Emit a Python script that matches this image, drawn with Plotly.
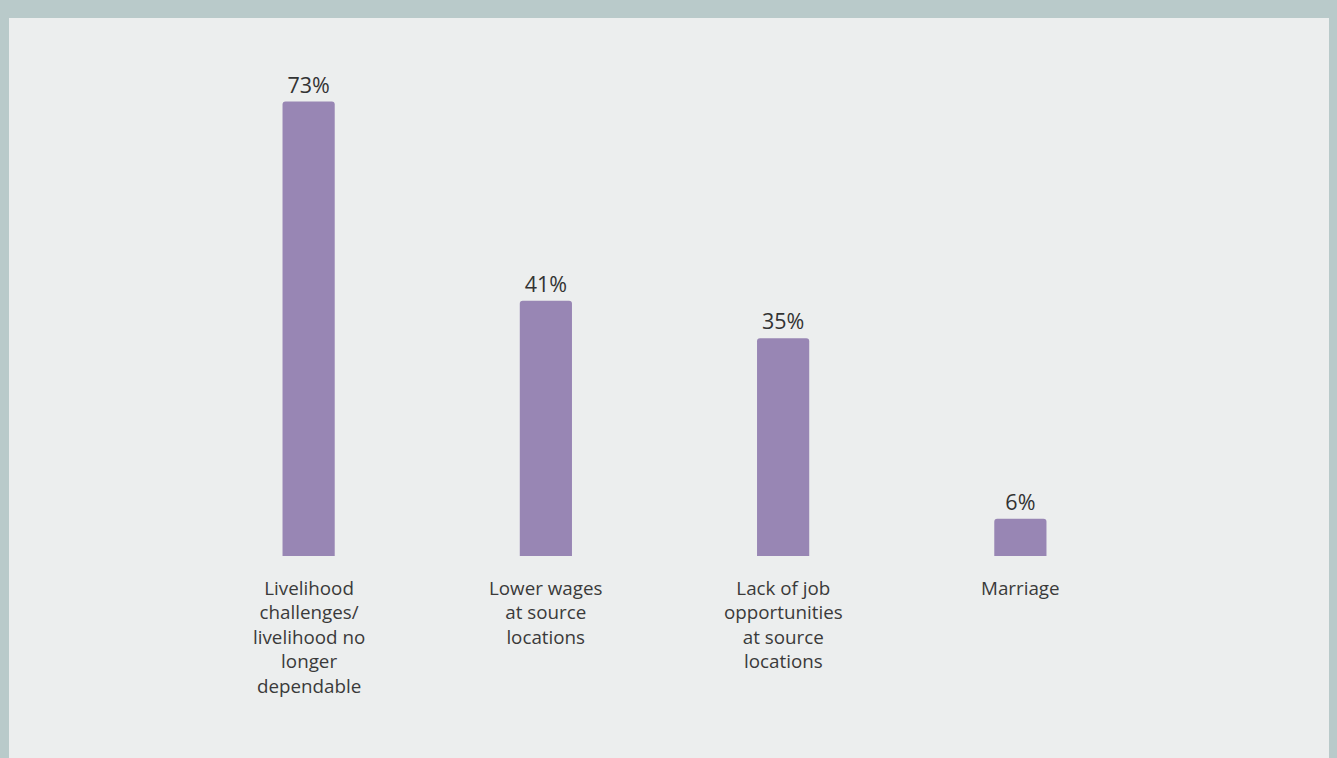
import plotly.graph_objects as go

categories = [
    "Livelihood<br>challenges/<br>livelihood no<br>longer<br>dependable",
    "Lower wages<br>at source<br>locations",
    "Lack of job<br>opportunities<br>at source<br>locations",
    "Marriage",
]
values = [73, 41, 35, 6]
value_labels = ["73%", "41%", "35%", "6%"]

W, H = 1337, 758
ML, MR, MT, MB = 190, 198, 58, 202
FONT = "Open Sans"

fig = go.Figure()
fig.add_trace(go.Bar(
    x=list(range(len(values))),
    y=values,
    text=value_labels,
    textposition="outside",
    textfont=dict(family=FONT, size=21.5, color="#333333"),
    marker=dict(color="#9886b4", cornerradius=3, line=dict(width=0)),
    width=0.22,
    cliponaxis=False,
    hoverinfo="skip",
))

for i, c in enumerate(categories):
    fig.add_annotation(
        x=i, y=0, xref="x", yref="y", text=c, showarrow=False,
        yanchor="top", yshift=-17,
        font=dict(family=FONT, size=18.8, color="#3a3a3a"),
        align="center",
    )

pw = W - ML - MR
ph = H - MT - MB
def px_x(p):
    return (p - ML) / pw
def px_y(p):
    return 1 - (p - MT) / ph

fig.add_shape(type="rect", xref="paper", yref="paper",
              x0=px_x(9), x1=px_x(1329), y0=px_y(H + 5), y1=px_y(18),
              fillcolor="#eceeee", line=dict(width=0), layer="below")

fig.update_layout(
    width=W, height=H,
    margin=dict(l=ML, r=MR, t=MT, b=MB),
    paper_bgcolor="#b9caca",
    plot_bgcolor="rgba(0,0,0,0)",
    showlegend=False,
    xaxis=dict(range=[-0.5, 3.5], visible=False),
    yaxis=dict(range=[0, 80], visible=False),
    font=dict(family=FONT),
)

fig.write_html("out.html")
